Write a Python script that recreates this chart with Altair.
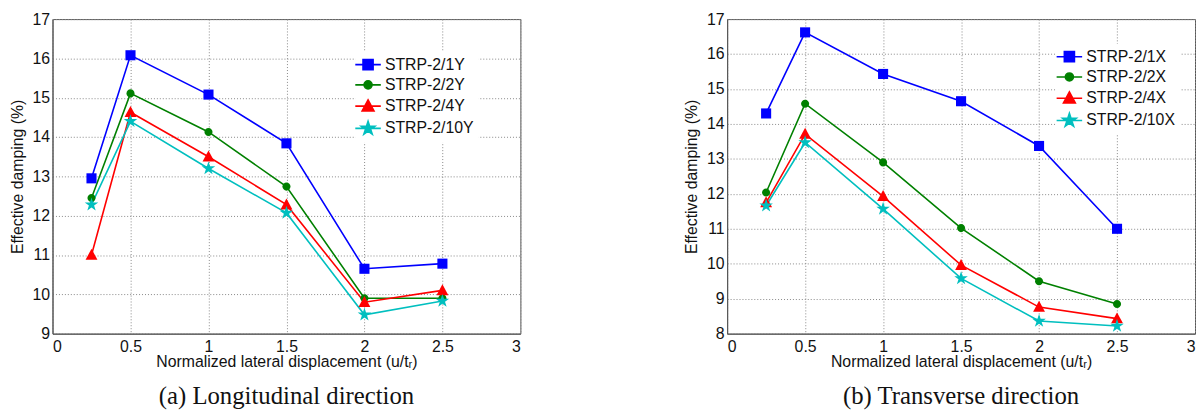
import altair as alt
import pandas as pd

x_vals = [0.25, 0.5, 1.0, 1.5, 2.0, 2.5]

long_names = ["STRP-2/1Y", "STRP-2/2Y", "STRP-2/4Y", "STRP-2/10Y"]
long_1 = [12.95, 16.08, 15.08, 13.84, 10.65, 10.78]
long_2 = [12.45, 15.11, 14.13, 12.74, 9.90, 9.90]
long_4 = [11.00, 14.63, 13.50, 12.28, 9.80, 10.10]
long_10 = [12.28, 14.40, 13.20, 12.07, 9.48, 9.83]

tran_names = ["STRP-2/1X", "STRP-2/2X", "STRP-2/4X", "STRP-2/10X"]
tran_1 = [14.30, 16.62, 15.43, 14.65, 13.37, 11.00]
tran_2 = [12.04, 14.58, 12.90, 11.02, 9.50, 8.85]
tran_4 = [11.75, 13.71, 11.93, 9.96, 8.76, 8.43]
tran_10 = [11.66, 13.47, 11.57, 9.58, 8.36, 8.22]

colors = ["#0000FF", "#008000", "#FF0000", "#00BFBF"]
SQUARE = "M-0.85,-0.85H0.85V0.85H-0.85Z"
CIRCLE = "M-0.68,0A0.68,0.68 0 1,0 0.68,0A0.68,0.68 0 1,0 -0.68,0Z"
TRIANGLE = "M0,-1.05L1.0,0.8L-1.0,0.8Z"
STAR = ("M0,-1.2L0.269,-0.371L1.141,-0.371L0.436,0.142L0.706,0.971L0,0.458"
        "L-0.706,0.971L-0.436,0.142L-1.141,-0.371L-0.269,-0.371Z")
shapes = [SQUARE, CIRCLE, TRIANGLE, STAR]
LEG_LINE = "M-2.15,0H2.15"
leg_shapes = [LEG_LINE + s for s in shapes]

SANS = "Liberation Sans"


def make_df(names, series):
    rows = []
    for n, s in zip(names, series):
        for xv, yv in zip(x_vals, s):
            rows.append({"series": n, "x": xv, "y": yv})
    return pd.DataFrame(rows)


def panel(names, series, ymin, caption, lx, ly):
    df = make_df(names, series)
    leg = alt.Legend(title=None, orient="none", legendX=lx, legendY=ly,
                     fillColor="white", padding=5,
                     labelFont=SANS, labelFontSize=16,
                     labelColor="#111", labelOffset=9,
                     rowPadding=3.5, symbolSize=144, symbolStrokeWidth=1.6,
                     symbolOpacity=1)
    cscale = alt.Scale(domain=names, range=colors)
    base = alt.Chart(df).encode(
        x=alt.X("x:Q", scale=alt.Scale(domain=[0, 3], nice=False),
                axis=alt.Axis(values=[0, 0.5, 1, 1.5, 2, 2.5, 3],
                              title="Normalized lateral displacement (u/tᵣ)",
                              labelOverlap=False,
                              labelExpr="format(datum.value, '~g')")),
        y=alt.Y("y:Q", scale=alt.Scale(domain=[ymin, 17], nice=False),
                axis=alt.Axis(values=list(range(ymin, 18)), labelOverlap=False,
                              title="Effective damping (%)")),
    )
    lines = base.mark_line(strokeWidth=1.6).encode(
        color=alt.Color("series:N", scale=cscale, legend=None),
        detail="series:N",
    )
    pts = base.mark_point(filled=True, opacity=1, size=144).encode(
        color=alt.Color("series:N", scale=cscale, legend=None),
        shape=alt.Shape("series:N", scale=alt.Scale(domain=names, range=shapes), legend=None),
    )
    legend_layer = base.transform_filter("datum.x < 0").mark_point(
        filled=True, opacity=1, size=144, strokeWidth=1.6
    ).encode(
        color=alt.Color("series:N", scale=cscale, legend=leg),
        stroke=alt.Stroke("series:N", scale=cscale, legend=leg),
        shape=alt.Shape("series:N", scale=alt.Scale(domain=names, range=leg_shapes), legend=leg),
    )
    return alt.layer(lines, pts, legend_layer).resolve_scale(
        color="independent", shape="independent", stroke="independent"
    ).properties(
        width=473, height=318,
        title=alt.TitleParams(caption, orient="bottom", font="Liberation Serif",
                              fontSize=25, fontWeight="normal", color="#111",
                              offset=15, anchor="middle"),
    )


left = panel(long_names, [long_1, long_2, long_4, long_10], 9,
             "(a) Longitudinal direction", 306, 33)
right = panel(tran_names, [tran_1, tran_2, tran_4, tran_10], 8,
              "(b) Transverse direction", 333, 25)

chart = alt.hconcat(left, right, spacing=163).resolve_scale(
    color="independent", shape="independent", stroke="independent"
).properties(
    padding={"left": 0, "top": 0, "right": 0, "bottom": 0}
).configure_view(
    stroke="#555", strokeWidth=1
).configure_axis(
    labelFont=SANS, labelFontSize=16, labelColor="#111",
    titleFont=SANS, titleFontSize=16, titleFontWeight="normal", titleColor="#111",
    grid=True, gridColor="#888", gridDash=[1, 2], gridWidth=1,
    domainColor="#555", ticks=False, labelPadding=4,
).configure_axisY(
    titlePadding=7, labelPadding=3
).configure_axisX(
    titlePadding=-1, labelPadding=5
)

chart.save("out.html", embed_options={"renderer": "svg", "actions": False})
